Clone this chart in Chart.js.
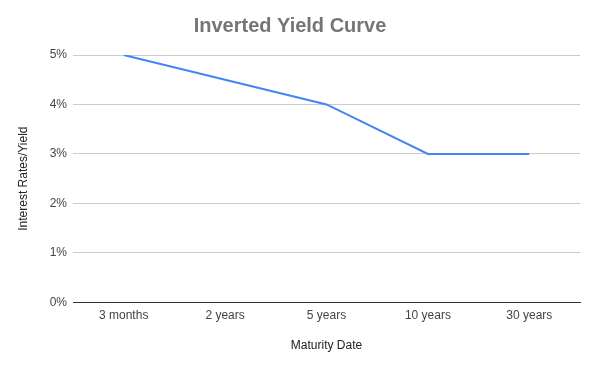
<!DOCTYPE html>
<html>
<head>
<meta charset="utf-8">
<script src="https://cdn.jsdelivr.net/npm/chart.js@4"></script>
<style>
  html, body { margin: 0; padding: 0; background: #fff; }
  #wrap { width: 599px; height: 368px; }
</style>
</head>
<body>
<div id="wrap"><canvas id="myChart" width="599" height="368"></canvas></div>
<script>
const maturities = ['3 months', '2 years', '5 years', '10 years', '30 years'];
const yields = [5, 4.5, 4, 3, 3];
const yTicks = [0, 1, 2, 3, 4, 5];

Chart.defaults.font.family = "'Liberation Sans', Arial, sans-serif";

const ctx = document.getElementById('myChart').getContext('2d');
const myChart = new Chart(ctx, {
    type: 'line',
    data: {
        labels: maturities,
        datasets: [{
            label: 'Yield',
            data: yields,
            borderColor: '#4285f4',
            backgroundColor: '#4285f4',
            borderWidth: 2,
            pointRadius: 0,
            tension: 0
        }]
    },
    options: {
        responsive: false,
        animation: false,
        layout: { padding: { left: 0, right: 19, top: 0, bottom: 15 } },
        plugins: {
            legend: { display: false },
            tooltip: { enabled: false },
            title: {
                display: true,
                text: 'Inverted Yield Curve',
                color: '#757575',
                font: { size: 20, weight: 'bold' },
                padding: { top: 14, bottom: 17 }
            }
        },
        scales: {
            x: {
                offset: true,
                grid: { display: false, drawTicks: false },
                border: { display: true, color: '#333', width: 1 },
                ticks: { color: '#444', font: { size: 12 }, padding: 6, maxRotation: 0 },
                title: {
                    display: true,
                    text: 'Maturity Date',
                    color: '#222',
                    font: { size: 12 },
                    padding: { top: 10, bottom: 0 }
                }
            },
            y: {
                min: 0,
                max: 5,
                afterFit: function (scale) { scale.width = 73; },
                afterBuildTicks: function (scale) {
                    scale.ticks = yTicks.map(v => ({ value: v }));
                },
                grid: {
                    drawTicks: false,
                    color: c => (c.tick && c.tick.value === 0) ? '#333' : '#ccc'
                },
                border: { display: false },
                ticks: {
                    color: '#444',
                    font: { size: 12 },
                    padding: 6,
                    callback: v => v + '%'
                },
                title: {
                    display: true,
                    text: 'Interest Rates/Yield',
                    color: '#222',
                    font: { size: 12 },
                    padding: { top: 16, bottom: 0 }
                }
            }
        }
    }
});
</script>
</body>
</html>
